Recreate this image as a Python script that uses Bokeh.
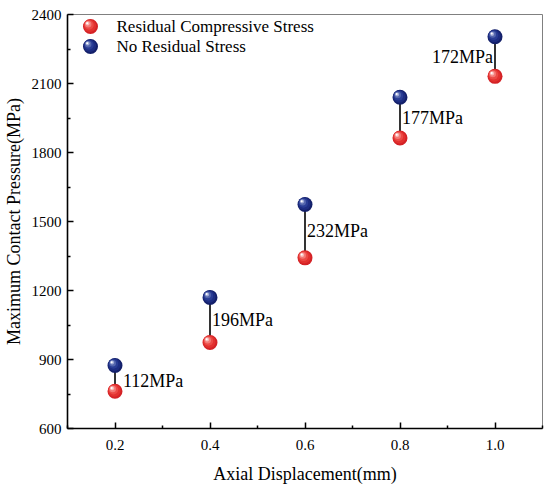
from bokeh.plotting import figure
from bokeh.models import FixedTicker, ColumnDataSource
from bokeh.embed import file_html
from bokeh.resources import INLINE
from bokeh.core.properties import value

# ---- data ----
displacement = [0.2, 0.4, 0.6, 0.8, 1.0]
residual_compressive = [762, 974, 1342, 1863, 2131]
no_residual = [874, 1170, 1574, 2040, 2303]
diff_labels = ["112MPa", "196MPa", "232MPa", "177MPa", "172MPa"]
series_names = ["Residual Compressive Stress", "No Residual Stress"]
x_ticks = [0.2, 0.4, 0.6, 0.8, 1.0]
x_tick_labels = ["0.2", "0.4", "0.6", "0.8", "1.0"]
y_ticks = [600, 900, 1200, 1500, 1800, 2100, 2400]
y_tick_labels = ["600", "900", "1200", "1500", "1800", "2100", "2400"]
x_minor = [0.1, 0.3, 0.5, 0.7, 0.9, 1.1]
y_minor = [750, 1050, 1350, 1650, 1950, 2250]

X0, X1 = 0.1, 1.1
Y0, Y1 = 600, 2400
FONT = "Liberation Serif"

W, H = 550, 490
BL, BR, BT, BB = 67, 8, 14, 62

p = figure(width=W, height=H, x_range=(X0, X1), y_range=(Y0, Y1),
           output_backend="svg", toolbar_location=None,
           min_border_left=BL, min_border_right=BR, min_border_top=BT, min_border_bottom=BB)
p.grid.visible = False
p.outline_line_color = "#808080"
p.outline_line_width = 1
p.background_fill_color = "white"
p.border_fill_color = "white"

fw = W - BL - BR
fh = H - BT - BB
px_x = (X1 - X0) / fw
px_y = (Y1 - Y0) / fh

for ax in (p.xaxis[0], p.yaxis[0]):
    ax.axis_line_color = "black"
    ax.axis_line_width = 1.6
    ax.major_tick_line_color = "black"
    ax.minor_tick_line_color = "black"
    ax.major_tick_line_width = 1.5
    ax.minor_tick_line_width = 1.5
    ax.major_tick_in = 6
    ax.major_tick_out = 0
    ax.minor_tick_in = 3
    ax.minor_tick_out = 0
    ax.major_label_text_font = FONT
    ax.major_label_text_font_size = "15px"
    ax.major_label_text_color = "black"
    ax.axis_label_text_font = FONT
    ax.axis_label_text_font_size = "18px"
    ax.axis_label_text_font_style = "normal"
    ax.axis_label_text_color = "black"

p.xaxis.ticker = FixedTicker(ticks=x_ticks, minor_ticks=x_minor)
p.yaxis.ticker = FixedTicker(ticks=y_ticks, minor_ticks=y_minor)
p.xaxis.major_label_overrides = {t: l for t, l in zip(x_ticks, x_tick_labels)}
p.yaxis.major_label_overrides = {t: l for t, l in zip(y_ticks, y_tick_labels)}
p.xaxis.axis_label = "Axial Displacement(mm)"
p.yaxis.axis_label = "Maximum Contact Pressure(MPa)"
p.xaxis.major_label_standoff = 11
p.yaxis.major_label_standoff = 6
p.xaxis.axis_label_standoff = 11
p.yaxis.axis_label_standoff = 5

# connecting segments
p.segment(x0=displacement, y0=residual_compressive, x1=displacement, y1=no_residual,
          line_color="black", line_width=1.6)

# sphere-like markers: layered circles (size, shift px, colour)
red_layers = [(15, 0.0, "#d42226"), (12.5, 0.7, "#e2312f"), (9.5, 1.5, "#ec4a46"),
              (6.5, 2.3, "#f37a76"), (4, 2.9, "#f9bcb9"), (2, 3.3, "#ffffff")]
blue_layers = [(15, 0.0, "#14206a"), (12.5, 0.7, "#1d2d82"), (9.5, 1.5, "#2a3d95"),
               (6.5, 2.3, "#5466ad"), (4, 2.9, "#a3add6"), (2, 3.3, "#ffffff")]

def sphere(xs0, ys0, layers):
    for size, s, col in layers:
        xs = [x - s * px_x for x in xs0]
        ys = [y + s * px_y for y in ys0]
        p.scatter(xs, ys, size=size, fill_color=col, line_color=None)

sphere(displacement, residual_compressive, red_layers)
sphere(displacement, no_residual, blue_layers)

# difference labels
mid = [(a + b) / 2 for a, b in zip(residual_compressive, no_residual)]
label_dx = [8, 2, 2, 2, -2]
label_dy = [3, 0, 0, 0, 0]
label_align = ["left", "left", "left", "left", "right"]
src = ColumnDataSource(dict(x=displacement, y=mid, t=diff_labels, dx=label_dx, dy=label_dy,
                            al=label_align))
p.text(x="x", y="y", text="t", x_offset="dx", y_offset="dy", text_align="al",
       text_baseline="middle", text_font=value(FONT), text_font_size="18px",
       text_color="black", source=src)

# legend (drawn in the frame's top-left corner, placed from the ranges)
leg_mx = X0 + 23 * px_x
leg_tx = X0 + 49 * px_x
leg_y = [Y1 - 12 * px_y, Y1 - 32 * px_y]
sphere([leg_mx], [leg_y[0]], red_layers)
sphere([leg_mx], [leg_y[1]], blue_layers)
p.text(x=[leg_tx, leg_tx], y=leg_y, text=series_names, text_align="left",
       text_baseline="middle", text_font=value(FONT), text_font_size="17px",
       text_color="black")

open("out.html", "w").write(file_html(p, INLINE))
